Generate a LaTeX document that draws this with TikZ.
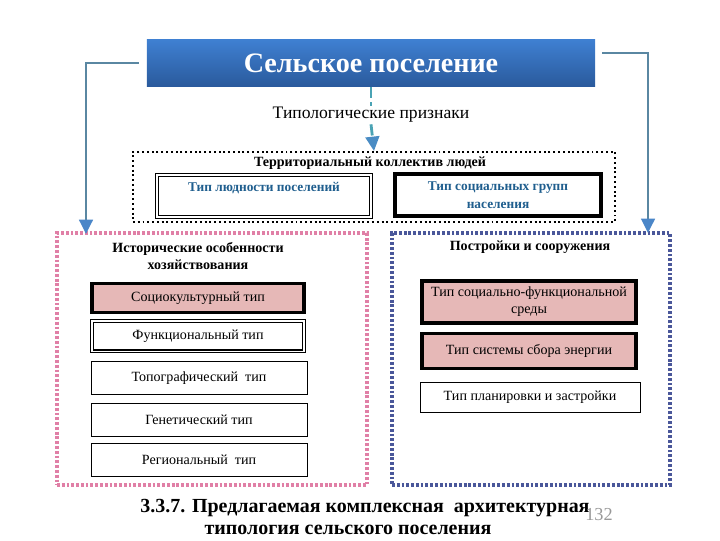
\documentclass[tikz,border=0pt]{standalone}
\usepackage{fontspec}
\setmainfont{Liberation Serif}
\usetikzlibrary{arrows.meta,positioning,calc}
\definecolor{titletop}{HTML}{3F80D2}
\definecolor{titlebot}{HTML}{2A5A9C}
\definecolor{linkblue}{HTML}{5A87A2}
\definecolor{tipblue}{HTML}{4A86C8}
\definecolor{tealline}{HTML}{4AA3B4}
\definecolor{pinkfill}{HTML}{E6B8B7}
\definecolor{pinkdot}{HTML}{E07FA6}
\definecolor{bluedot}{HTML}{4A579A}
\definecolor{typblue}{HTML}{1F5E8E}
\tikzset{
  tbox/.style={draw,align=center,font=\fontsize{10}{12}\selectfont,minimum width=5.4cm,inner sep=2pt},
  hibox/.style={tbox,fill=pinkfill,line width=2.5pt},
  dblbox/.style={tbox,double,double distance=1pt,line width=0.9pt},
  head/.style={font=\bfseries\fontsize{10}{12}\selectfont,align=center},
  link/.style={line width=2pt,draw=linkblue,-{Triangle[length=3.6mm,width=3.4mm,color=tipblue]}},
  cline/.style={line width=2pt,draw=tealline,dash pattern=on 8pt off 3pt},
  grpbox/.style={line width=2.4pt,dash pattern=on 2pt off 1.4pt,minimum height=6.3cm},
}

\begin{document}
\begin{tikzpicture}[x=0.025cm,y=-0.025cm]
\useasboundingbox (0,0) rectangle (720,540);
% top
\node[minimum width=11.2cm,minimum height=1.18cm,top color=titletop,bottom color=titlebot,
  text=white,font=\bfseries\fontsize{20}{24}\selectfont] (title) at (371,63) {Сельское поселение};
\node[fill=white,font=\fontsize{12.5}{14}\selectfont,inner sep=1pt] (typ) at (371,115) {Типологические признаки};
% territorial group
\node[draw,dotted,line width=1.4pt,minimum width=12.05cm,minimum height=1.75cm] (terr) at (374,187) {};
\node[head] (terrh) at (370,163) {Территориальный коллектив людей};
\node[dblbox,minimum width=5.35cm,minimum height=1.05cm,
  label={[anchor=north,yshift=-2pt,font=\bfseries\fontsize{9.5}{11}\selectfont,text=typblue]north:Тип людности поселений}] (lyud) at (264,196) {};
\node[tbox,line width=3pt,minimum width=5.15cm,minimum height=1.05cm,
  font=\bfseries\fontsize{9.5}{13}\selectfont,text=typblue] (grupp) at (498,195) {Тип социальных групп\\населения};
% two groups
\node[grpbox,draw=pinkdot,minimum width=7.75cm] (hist) at (212,359) {};
\node[grpbox,draw=bluedot,minimum width=6.95cm] (postr) at (531,359) {};
\node[head] (histh) at (198,256) {Исторические особенности\\хозяйствования};
\node[head] (postrh) at (530,247) {Постройки и сооружения};
% left column
\node[hibox,minimum width=5.3cm,minimum height=0.72cm] (soc) at (198,298) {Социокультурный тип};
\node[dblbox,minimum width=5.3cm,minimum height=0.76cm] (func) at (198,336) {Функциональный тип};
\node[tbox,minimum height=0.82cm] (topo) at (199,378) {Топографический\ \ тип};
\node[tbox,minimum height=0.82cm] (gen) at (199,420) {Генетический тип};
\node[tbox,minimum height=0.82cm] (reg) at (199,460) {Региональный\ \ тип};
% right column
\node[hibox,minimum width=5.35cm,minimum height=1.05cm] (sreda) at (529,302) {Тип социально-функциональной\\среды};
\node[hibox,minimum width=5.35cm,minimum height=0.88cm] (energ) at (529,351) {Тип системы сбора энергии};
\node[tbox,minimum width=5.5cm,minimum height=0.75cm] (plan) at (530,397) {Тип планировки и застройки};
% caption
\node[font=\bfseries\fontsize{14.2}{16}\selectfont] (cap1) at (365,508) {3.3.7. Предлагаемая комплексная\ \ архитектурная};
\node[font=\bfseries\fontsize{14.2}{16}\selectfont] (cap2) at (348,530) {типология сельского поселения};
\node[font=\fontsize{13}{15}\selectfont,text=black!40] (num) at (599,515) {132};
% connectors
\coordinate (ltip) at (86,234);
\coordinate (rtip) at (648,233);
\draw[link] ([xshift=-0.2cm]title.west) -| (ltip);
\draw[link] ([shift={(0.17cm,0.25cm)}]title.east) -| (rtip);
\draw[cline] (title.south) -- (typ.north);
\draw[cline,-{Triangle[length=3.6mm,width=3.4mm,color=tipblue!80!tealline]}] (typ.south) -- (terr.north);
\end{tikzpicture}
\end{document}
